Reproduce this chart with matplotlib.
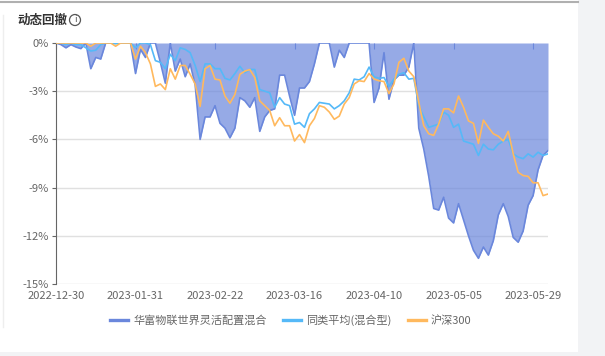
import matplotlib
matplotlib.use("Agg")
import matplotlib.pyplot as plt
from matplotlib.patches import Circle, Rectangle
from matplotlib.lines import Line2D
from matplotlib.transforms import IdentityTransform
import numpy as np

plt.rcParams["font.family"] = ["Noto Sans CJK SC", "DejaVu Sans"]

# 动态回撤, %
fund = [
    0, -0.1, -0.3, -0.1, -0.25, -0.35, 0, -1.6, -0.9, -1.0,
    0, 0, 0, 0, 0, 0, -1.9, -0.4, -0.9, 0,
    0, -1.2, -2.5, 0, -1.75, -1.0, -2.1, -1.3, -2.6, -6.0,
    -4.6, -4.6, -3.9, -5.0, -5.3, -5.9, -5.3, -3.4, -3.6, -4.0,
    -3.4, -5.5, -4.6, -4.2, -4.1, -2.0, -2.0, -3.3, -4.5, -2.8,
    -2.8, -2.4, -1.3, 0, 0, 0, -1.5, -0.45, -0.9, 0,
    0, 0, 0, 0, -3.7, -2.8, -0.6, -3.5, -2.3, -2.0,
    -2.0, -1.5, 0, -5.3, -6.6, -8.3, -10.3, -10.4, -9.6, -10.9,
    -11.2, -10.0, -11.0, -12.0, -12.9, -13.4, -12.7, -13.2, -12.3, -10.7,
    -10.0, -10.8, -12.1, -12.4, -11.7, -10.1, -9.5, -7.9, -7.0, -6.7,
]
peer_avg = [
    0, 0, -0.1, 0, -0.1, -0.1, -0.3, -0.5, -0.45, -0.1,
    0, 0, -0.05, 0, 0, 0, -0.3, 0, 0, -0.1,
    -1.1, -1.2, -1.6, -0.7, -1.1, -0.3, -0.4, -0.6, -1.4, -2.4,
    -1.3, -1.3, -1.6, -1.6, -2.2, -2.3, -1.9, -1.45, -1.85, -1.65,
    -1.65, -2.9, -3.0, -3.1, -4.0, -3.4, -3.8, -3.9, -5.05, -4.95,
    -5.25, -4.4, -4.1, -3.7, -3.75, -3.8, -4.1, -3.9, -3.6, -3.1,
    -2.25, -2.3, -2.1, -1.5, -2.1, -2.2, -2.15, -2.7, -2.25, -1.95,
    -1.85, -2.25, -2.2, -3.9, -4.6, -5.25, -5.15, -5.05, -4.3, -4.5,
    -5.25, -5.05, -6.1, -6.2, -6.3, -7.0, -6.3, -6.6, -6.65, -6.3,
    -6.1, -6.0, -6.9, -7.1, -7.2, -6.9, -7.1, -6.8, -7.0, -6.9,
]
hs300 = [
    0, 0, 0, 0, 0, 0, 0, -0.2, 0, 0,
    0, 0, -0.2, 0, 0, 0, -1.0, -0.2, -0.6, -1.3,
    -2.7, -2.55, -2.9, -1.6, -2.25, -1.4, -1.4, -1.95, -2.55, -3.95,
    -1.6, -1.4, -2.25, -2.3, -3.3, -3.75, -3.2, -1.95, -1.75, -1.65,
    -2.15, -3.6, -3.9, -4.2, -5.15, -4.65, -5.15, -5.15, -6.1, -5.7,
    -6.2, -5.15, -4.7, -3.9, -4.0, -4.3, -4.75, -4.55, -3.8, -3.4,
    -2.55, -2.35, -2.4, -1.9, -2.25, -2.35, -2.4, -3.15, -2.55, -1.2,
    -0.95, -1.75, -2.1, -3.7, -5.15, -5.65, -5.75, -5.05, -4.1, -4.1,
    -4.35, -3.3, -4.0, -4.85, -5.0, -6.25, -4.8, -5.25, -5.65, -5.8,
    -6.1, -5.5, -6.9, -8.05, -8.25, -8.3, -8.7, -8.7, -9.5, -9.4,
]
tick_dates = ["2022-12-30", "2023-01-31", "2023-02-22", "2023-03-16",
              "2023-04-10", "2023-05-05", "2023-05-29"]
TICK_STEP = 16
y_ticks = [0, -3, -6, -9, -12, -15]
names = ["华富物联世界灵活配置混合", "同类平均(混合型)", "沪深300"]

C_FUND = "#6a87dc"
C_PEER = "#55b9f8"
C_HS = "#ffb95e"

fig = plt.figure(figsize=(6.05, 3.56), dpi=100)

# рамка карточки
fig.add_artist(Rectangle((578, 0), 30, 360, transform=IdentityTransform(),
                         facecolor="#f2f3f5", edgecolor="none"))
fig.add_artist(Rectangle((0, 0), 578, 4, transform=IdentityTransform(),
                         facecolor="#f2f3f5", edgecolor="none"))
fig.add_artist(Line2D([0, 578], [354, 354], transform=IdentityTransform(),
                      color="#b0b0b0", linewidth=1.5))
fig.add_artist(Line2D([3, 3], [29, 341], transform=IdentityTransform(),
                      color="#eeeeee", linewidth=1))

fig.text(17 / 605, 1 - 20 / 356, "动态回撤", fontsize=9, color="#333333",
         fontweight="bold", va="center", ha="left")
fig.add_artist(Circle((75, 336), 5.5, transform=IdentityTransform(),
                      facecolor="none", edgecolor="#555555", linewidth=0.9))
fig.text(75 / 605, 1 - 20 / 356, "i", fontsize=6.5, color="#555555",
         va="center", ha="center", family="DejaVu Sans")

ax = fig.add_axes([56 / 605, 1 - 284 / 356, 492 / 605, 241 / 356])
x = np.arange(len(fund))

for v in y_ticks[1:]:
    ax.axhline(v, color="#e0e0e0", linewidth=1, zorder=0)

ax.fill_between(x, fund, 0, color=C_FUND, alpha=0.7, linewidth=0, zorder=1)
l1, = ax.plot(x, fund, color=C_FUND, linewidth=1.2, zorder=2, label=names[0])
l2, = ax.plot(x, peer_avg, color=C_PEER, linewidth=1.2, zorder=3, label=names[1])
l3, = ax.plot(x, hs300, color=C_HS, linewidth=1.2, zorder=4, label=names[2])

ax.set_xlim(0, len(fund) - 1)
ax.set_ylim(-15, 0)
ax.set_yticks(y_ticks)
ax.set_yticklabels([f"{v}%" for v in y_ticks])
ax.set_xticks(x[::TICK_STEP][:len(tick_dates)])
ax.set_xticklabels(tick_dates)

for s in ["top", "right", "bottom"]:
    ax.spines[s].set_visible(False)
ax.spines["left"].set_color("#666666")
ax.tick_params(axis="y", length=3, color="#666666", labelsize=8,
               labelcolor="#666666", pad=2)
ax.tick_params(axis="x", bottom=False, top=True, direction="in", length=4,
               color=C_FUND, labelsize=8, labelcolor="#666666", pad=5)

leg = fig.legend(handles=[l1, l2, l3], loc="center", ncol=3,
                 bbox_to_anchor=(291 / 605, 1 - 320 / 356), frameon=False,
                 fontsize=8, handlelength=1.6, handletextpad=0.45,
                 columnspacing=1.5, labelcolor="#666666")
for ln in leg.get_lines():
    ln.set_linewidth(2.4)

fig.savefig("out.png", dpi=100, facecolor="white")
